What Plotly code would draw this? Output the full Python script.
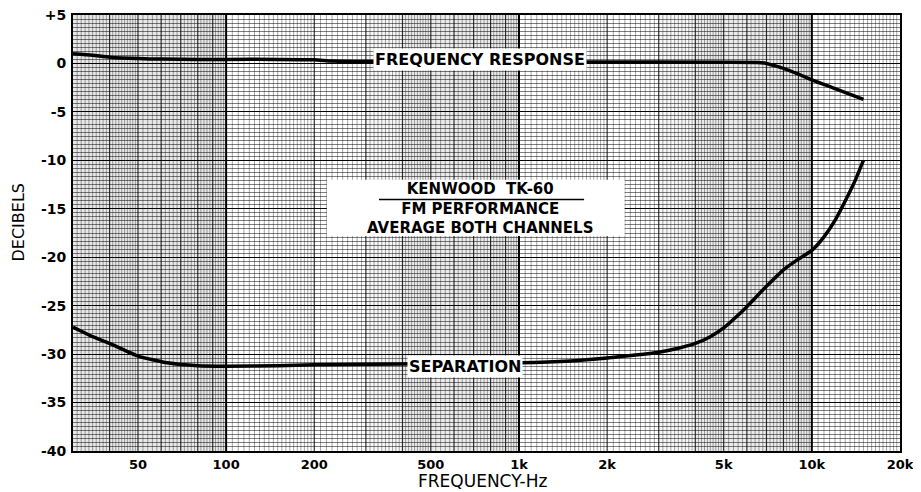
import numpy as np
import plotly.graph_objects as go

# ---------------- data ----------------
resp_freq = [30, 35, 40, 50, 60, 80, 100, 150, 200, 230, 300, 500, 1000, 2000,
             5000, 6500, 7000, 7500, 8000, 9000, 10000, 12000, 15000]
resp_db = [1.0, 0.85, 0.65, 0.5, 0.45, 0.42, 0.42, 0.42, 0.38, 0.25, 0.2, 0.18,
           0.15, 0.15, 0.12, 0.1, 0.0, -0.25, -0.5, -1.1, -1.7, -2.6, -3.7]

sep_freq = [30, 35, 40, 50, 63, 80, 100, 150, 200, 500, 1000, 1500, 2000, 2500,
            3000, 3500, 4000, 4500, 5000, 5500, 6000, 7000, 8000, 9000, 10000, 11000,
            12000, 13000, 14000, 15000]
sep_db = [-27.2, -28.2, -28.9, -30.2, -30.9, -31.2, -31.25, -31.2, -31.1, -31.0,
          -30.9, -30.7, -30.4, -30.1, -29.8, -29.4, -28.9, -28.2, -27.3, -26.2,
          -25.1, -23.0, -21.3, -20.2, -19.3, -17.9, -16.2, -14.2, -12.2, -10.0]

x_tickvals = [50, 100, 200, 500, 1000, 2000, 5000, 10000, 20000]
x_ticktext = ["50", "100", "200", "500", "1k", "2k", "5k", "10k", "20k"]
y_tickvals = [5, 0, -5, -10, -15, -20, -25, -30, -35, -40]
y_ticktext = ["+5", "0", "-5", "-10", "-15", "-20", "-25", "-30", "-35", "-40"]

shade_bands = [(30, 100, 0.09), (300, 400, 0.03), (400, 1000, 0.08),
               (3000, 4000, 0.03), (4000, 10000, 0.08)]

X_MIN, X_MAX = 30, 20000
Y_MIN, Y_MAX = -40, 5

FONT = "DejaVu Sans"

# ---------------- grid line positions (log paper) ----------------
def paper_lines():
    minor, medium, major = [], [], []
    for dec in [10, 100, 1000, 10000]:
        mants = list(np.arange(1.05, 2.0, 0.05)) + list(np.arange(2.1, 5.0, 0.1)) + \
            list(np.arange(5.2, 10.0, 0.2))
        for m in mants:
            if abs(m - round(m)) < 1e-6:
                continue
            minor.append(round(m * dec, 6))
        for m in range(2, 10):
            medium.append(m * dec)
        major.append(dec)
    major.append(100000)
    filt = lambda arr: [v for v in arr if X_MIN < v < X_MAX]
    return filt(minor), filt(medium), filt(major)


def vlines(vals):
    xs, ys = [], []
    for v in vals:
        xs += [v, v, None]
        ys += [Y_MIN, Y_MAX, None]
    return xs, ys


fig = go.Figure()

# shaded regions of the chart paper
for a, b, alpha in shade_bands:
    fig.add_trace(go.Scatter(x=[a, b, b, a, a], y=[Y_MIN, Y_MIN, Y_MAX, Y_MAX, Y_MIN],
                             fill="toself", fillcolor=f"rgba(0,0,0,{alpha})",
                             line=dict(width=0), mode="lines", hoverinfo="skip",
                             showlegend=False))

minor, medium, major = paper_lines()
for vals, w, col in [(minor, 0.7, "rgba(0,0,0,0.5)"), (medium, 1.2, "rgba(0,0,0,0.8)"),
                     (major, 2.0, "black")]:
    xs, ys = vlines(vals)
    fig.add_trace(go.Scatter(x=xs, y=ys, mode="lines", line=dict(color=col, width=w),
                             hoverinfo="skip", showlegend=False))

# data curves
fig.add_trace(go.Scatter(x=resp_freq, y=resp_db, mode="lines",
                         line=dict(color="black", width=3.5, shape="spline", smoothing=0.5),
                         showlegend=False))
fig.add_trace(go.Scatter(x=sep_freq, y=sep_db, mode="lines",
                         line=dict(color="black", width=3.5, shape="spline", smoothing=0.5),
                         showlegend=False))

fig.update_xaxes(type="log", range=[np.log10(X_MIN), np.log10(X_MAX)],
                 tickvals=x_tickvals, ticktext=x_ticktext, showgrid=False,
                 zeroline=False, showline=True, linecolor="black", linewidth=2, mirror=True,
                 ticks="", ticklabelstandoff=0, automargin=False, ticklabeloverflow="allow",
                 tickfont=dict(family=FONT, size=13, color="black", weight="bold"))
fig.update_yaxes(range=[Y_MIN, Y_MAX], tickvals=y_tickvals, ticktext=y_ticktext,
                 showgrid=True, gridcolor="black", gridwidth=1.4,
                 minor=dict(dtick=5 / 12, tick0=0, showgrid=True,
                            gridcolor="rgba(0,0,0,0.5)", gridwidth=0.7),
                 zeroline=False, showline=True, linecolor="black", linewidth=2, mirror=True,
                 ticks="", ticklabelstandoff=2, automargin=False, ticklabeloverflow="allow",
                 tickfont=dict(family=FONT, size=14, color="black", weight="bold"))

ann_font = dict(family=FONT, size=16, color="black", weight="bold")
fig.add_annotation(xref="paper", yref="paper", x=0.492, y=0.924,
                   text="FREQUENCY RESPONSE", showarrow=False, bgcolor="white",
                   borderpad=1, font=ann_font)

# title block: white box, three lines, rule under first line
fig.add_shape(type="rect", xref="paper", yref="paper", x0=0.307, x1=0.667,
              y0=0.493, y1=0.622, fillcolor="white", line=dict(width=0), layer="above")
fig.add_shape(type="line", xref="paper", yref="paper", x0=0.370, x1=0.618,
              y0=0.577, y1=0.577, line=dict(color="black", width=1.5), layer="above")
fig.add_annotation(xref="paper", yref="paper", x=0.492, y=0.557,
                   text="KENWOOD  TK-60<br>FM PERFORMANCE<br>AVERAGE BOTH CHANNELS",
                   showarrow=False, borderpad=0,
                   font=dict(family=FONT, size=15, color="black", weight="bold"))

fig.add_annotation(xref="paper", yref="paper", x=0.474, y=0.167,
                   text="SEPARATION", showarrow=False, bgcolor="white", borderpad=1,
                   font=ann_font)

fig.add_annotation(xref="paper", yref="paper", x=0.495, y=-0.094, yanchor="bottom",
                   text="FREQUENCY-Hz", showarrow=False, borderpad=0,
                   font=dict(family=FONT, size=17, color="black"))
fig.add_annotation(xref="paper", yref="paper", x=-0.066, y=0.525, xanchor="center",
                   text="DECIBELS", showarrow=False, textangle=-90,
                   font=dict(family=FONT, size=16, color="black"))

# page body adds an 8px offset; size the figure so the plot box lands where it should
fig.update_layout(width=913, height=484, margin=dict(l=65, r=21, t=7, b=41),
                  paper_bgcolor="white", plot_bgcolor="white")

fig.write_html("out.html")
